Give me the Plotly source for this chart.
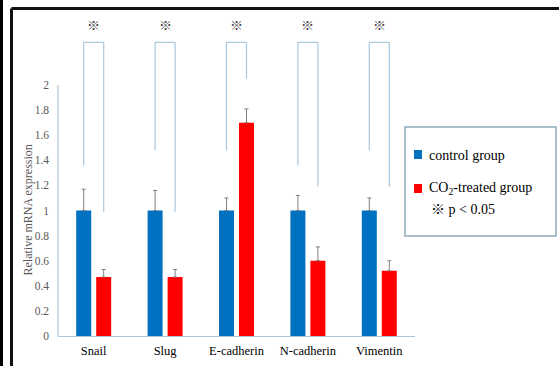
import plotly.graph_objects as go

categories = ["Snail", "Slug", "E-cadherin", "N-cadherin", "Vimentin"]
control = [1.0, 1.0, 1.0, 1.0, 1.0]
control_err = [0.17, 0.16, 0.10, 0.12, 0.10]
treated = [0.47, 0.47, 1.70, 0.60, 0.52]
treated_err = [0.06, 0.06, 0.11, 0.11, 0.08]
# significance brackets (data units)
bracket_top = [2.34, 2.34, 2.34, 2.34, 2.34]
bracket_left_bottom = [1.36, 1.48, 1.48, 1.36, 1.48]
bracket_right_bottom = [0.99, 0.99, 2.05, 1.19, 1.19]
star_y = 2.48
ytick_vals = [0, 0.2, 0.4, 0.6, 0.8, 1.0, 1.2, 1.4, 1.6, 1.8, 2.0]
ytick_text = ["0", "0.2", "0.4", "0.6", "0.8", "1", "1.2", "1.4", "1.6", "1.8", "2"]
y_title = "Relative mRNA expression"

BLUE = "#0070c0"
RED = "#ff0000"
LINE = "#a9c7dc"
GREY = "#595959"
SERIF = "Liberation Serif"
MARK_FONT = "Noto Sans CJK JP"

W, H = 559, 366
L, R, T, B = 58, 144, 16, 30
PW, PH = W - L - R, H - T - B


def px(x):
    return (x - L) / PW


def py(y):
    return (H - B - y) / PH


fig = go.Figure()
fig.add_trace(go.Bar(
    x=categories, y=control, name="control group", marker_color=BLUE,
    marker_line_width=0,
    error_y=dict(type="data", array=control_err, symmetric=False,
                 arrayminus=[0] * len(control), color="#7f7f7f",
                 thickness=1, width=2),
))
fig.add_trace(go.Bar(
    x=categories, y=treated, name="CO2-treated group", marker_color=RED,
    marker_line_width=0,
    error_y=dict(type="data", array=treated_err, symmetric=False,
                 arrayminus=[0] * len(treated), color="#7f7f7f",
                 thickness=1, width=2),
))

shapes = []
annotations = []
off = 0.14
for i, c in enumerate(categories):
    xl, xr = i - off, i + off
    shapes.append(dict(type="line", xref="x", yref="y", x0=xl, x1=xl,
                       y0=bracket_left_bottom[i], y1=bracket_top[i],
                       line=dict(color=LINE, width=1.2)))
    shapes.append(dict(type="line", xref="x", yref="y", x0=xl, x1=xr,
                       y0=bracket_top[i], y1=bracket_top[i],
                       line=dict(color=LINE, width=1.2)))
    shapes.append(dict(type="line", xref="x", yref="y", x0=xr, x1=xr,
                       y0=bracket_right_bottom[i], y1=bracket_top[i],
                       line=dict(color=LINE, width=1.2)))
    annotations.append(dict(x=i, y=star_y, xref="x", yref="y", text="※",
                            showarrow=False,
                            font=dict(family=MARK_FONT, size=13, color="#404040")))

# y-axis line (0 to 2 only)
shapes.append(dict(type="line", xref="paper", yref="y", x0=0, x1=0, y0=0, y1=2,
                   line=dict(color=LINE, width=1.2)))

# y-axis title centred on the 0..2 axis
annotations.append(dict(x=px(28), y=1.0, xref="paper", yref="y",
                        text=y_title, textangle=-90, showarrow=False,
                        xanchor="center", yanchor="middle",
                        font=dict(family=SERIF, size=12, color=GREY)))

# outer frame
shapes.append(dict(type="line", xref="paper", yref="paper",
                   x0=px(11.5), x1=px(W + 5), y0=py(8.5), y1=py(8.5),
                   line=dict(color="#111", width=3)))
shapes.append(dict(type="line", xref="paper", yref="paper",
                   x0=px(11.5), x1=px(11.5), y0=py(8.5), y1=py(H + 5),
                   line=dict(color="#111", width=3)))
shapes.append(dict(type="rect", xref="paper", yref="paper",
                   x0=px(-2), x1=px(3), y0=py(-2), y1=py(H + 2),
                   fillcolor="#000", line=dict(width=0)))

# legend box
shapes.append(dict(type="rect", xref="paper", yref="paper",
                   x0=px(405), x1=px(556), y0=py(127), y1=py(236),
                   line=dict(color="#8fa9bc", width=1.5), fillcolor="white"))
shapes.append(dict(type="rect", xref="paper", yref="paper",
                   x0=px(414), x1=px(422), y0=py(150), y1=py(159),
                   fillcolor=BLUE, line=dict(width=0)))
shapes.append(dict(type="rect", xref="paper", yref="paper",
                   x0=px(414), x1=px(422), y0=py(184), y1=py(193),
                   fillcolor=RED, line=dict(width=0)))
annotations.append(dict(x=px(427), y=py(155), xref="paper", yref="paper",
                        xanchor="left", yanchor="middle", showarrow=False,
                        text="control group",
                        font=dict(family=SERIF, size=14, color="#000")))
annotations.append(dict(x=px(427), y=py(188), xref="paper", yref="paper",
                        xanchor="left", yanchor="middle", showarrow=False,
                        text="CO<sub>2</sub>-treated group",
                        font=dict(family=SERIF, size=14, color="#000")))
annotations.append(dict(x=px(429), y=py(208), xref="paper", yref="paper",
                        xanchor="left", yanchor="middle", showarrow=False,
                        text="<span style='font-family:Noto Sans CJK JP'>※</span> p &lt; 0.05",
                        font=dict(family=SERIF, size=14, color="#000")))

fig.update_layout(
    width=W, height=H,
    margin=dict(l=L, r=R, t=T, b=B, pad=0, autoexpand=False),
    paper_bgcolor="white", plot_bgcolor="white",
    barmode="group", bargap=0.44, bargroupgap=0.25,
    showlegend=False,
    font=dict(family=SERIF),
    shapes=shapes, annotations=annotations,
    xaxis=dict(showline=True, linecolor=LINE, linewidth=1.2, showgrid=False,
               ticks="", ticklabelstandoff=3, automargin=False,
               tickfont=dict(family=SERIF, size=12.5, color="#000"),
               fixedrange=True),
    yaxis=dict(range=[0, 2.55], showline=False, showgrid=False, zeroline=False,
               tickvals=ytick_vals, ticktext=ytick_text, ticks="",
               ticklabelstandoff=8, automargin=False,
               tickfont=dict(family=SERIF, size=11.5, color=GREY),
               fixedrange=True),
)

fig.write_html("out.html", config={"displayModeBar": False},
               post_script="document.body.style.margin='0';document.body.style.overflow='hidden';")
